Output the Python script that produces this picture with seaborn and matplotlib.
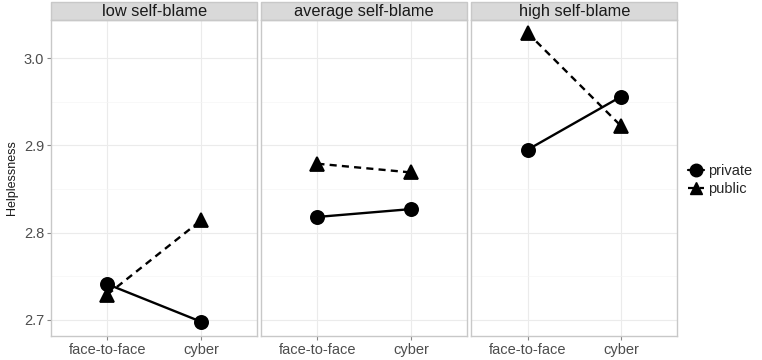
import pandas as pd
import seaborn as sns
import matplotlib.pyplot as plt
from matplotlib.patches import Rectangle
from matplotlib.lines import Line2D

panels = ["low self-blame", "average self-blame", "high self-blame"]
modes = ["face-to-face", "cyber"]
private = [[2.741, 2.698], [2.818, 2.827], [2.895, 2.956]]
public = [[2.729, 2.814], [2.879, 2.869], [3.029, 2.922]]

rows = []
for i, p in enumerate(panels):
    for j, m in enumerate(modes):
        rows.append({"panel": p, "mode": m, "type": "private", "val": private[i][j]})
        rows.append({"panel": p, "mode": m, "type": "public", "val": public[i][j]})
df = pd.DataFrame(rows)

sns.set_style("whitegrid")
plt.rcParams["font.family"] = ["Liberation Sans", "DejaVu Sans"]

fig, axes = plt.subplots(1, 3, figsize=(7.62, 3.6), dpi=100, sharey=True)
fig.subplots_adjust(left=0.067, right=0.889, top=0.944, bottom=0.067, wspace=0.02)

for ax, p in zip(axes, panels):
    d = df[df["panel"] == p]
    sns.pointplot(data=d, x="mode", y="val", hue="type", order=modes,
                  hue_order=["private", "public"], markers=["o", "^"],
                  linestyles=["-", "--"], palette=["black", "black"],
                  errorbar=None, ax=ax, legend=False, markersize=9.5, linewidth=1.7)
    ax.set_xlim(-0.6, 1.6)
    ax.set_ylim(2.6817, 3.0435)
    ax.set_yticks([2.7, 2.8, 2.9, 3.0])
    ax.set_yticks([2.75, 2.85, 2.95], minor=True)
    ax.grid(True, which="major", color="#ebebeb", linewidth=0.8)
    ax.grid(True, which="minor", axis="y", color="#f5f5f5", linewidth=0.5)
    ax.set_xlabel("")
    ax.set_ylabel("")
    for s in ax.spines.values():
        s.set_color("#c8c8c8")
        s.set_linewidth(1.0)
    ax.tick_params(axis="both", which="major", length=3, color="#888888",
                   labelcolor="#4d4d4d", labelsize=10.5, pad=2, left=True, bottom=True)
    ax.tick_params(axis="y", which="minor", length=0)
    ax.add_patch(Rectangle((0, 1.0), 1, 18 / 316, transform=ax.transAxes,
                           facecolor="#d9d9d9", edgecolor="#c8c8c8", linewidth=1.0, clip_on=False))
    ax.text(0.5, 1 + 9 / 316, p, transform=ax.transAxes, ha="center", va="center",
            fontsize=11.8, color="#1a1a1a")
    for ln in ax.lines:
        if ln.get_linestyle() == "--":
            ln.set_dashes((3, 2.2))

axes[0].set_ylabel("Helplessness", fontsize=9, color="#1a1a1a")
for ax in axes[1:]:
    ax.tick_params(axis="y", left=False)

handles = [Line2D([], [], color="black", marker="o", markersize=9, linewidth=1.6),
           Line2D([], [], color="black", marker="^", markersize=9, linewidth=1.6, linestyle="--")]
leg = fig.legend(handles, ["private", "public"], loc="center left", bbox_to_anchor=(0.903, 0.5),
                 frameon=False, fontsize=10.5, handlelength=1.1, handletextpad=0.25,
                 labelspacing=0.25, borderaxespad=0, borderpad=0)

plt.savefig("out.png", dpi=100)
